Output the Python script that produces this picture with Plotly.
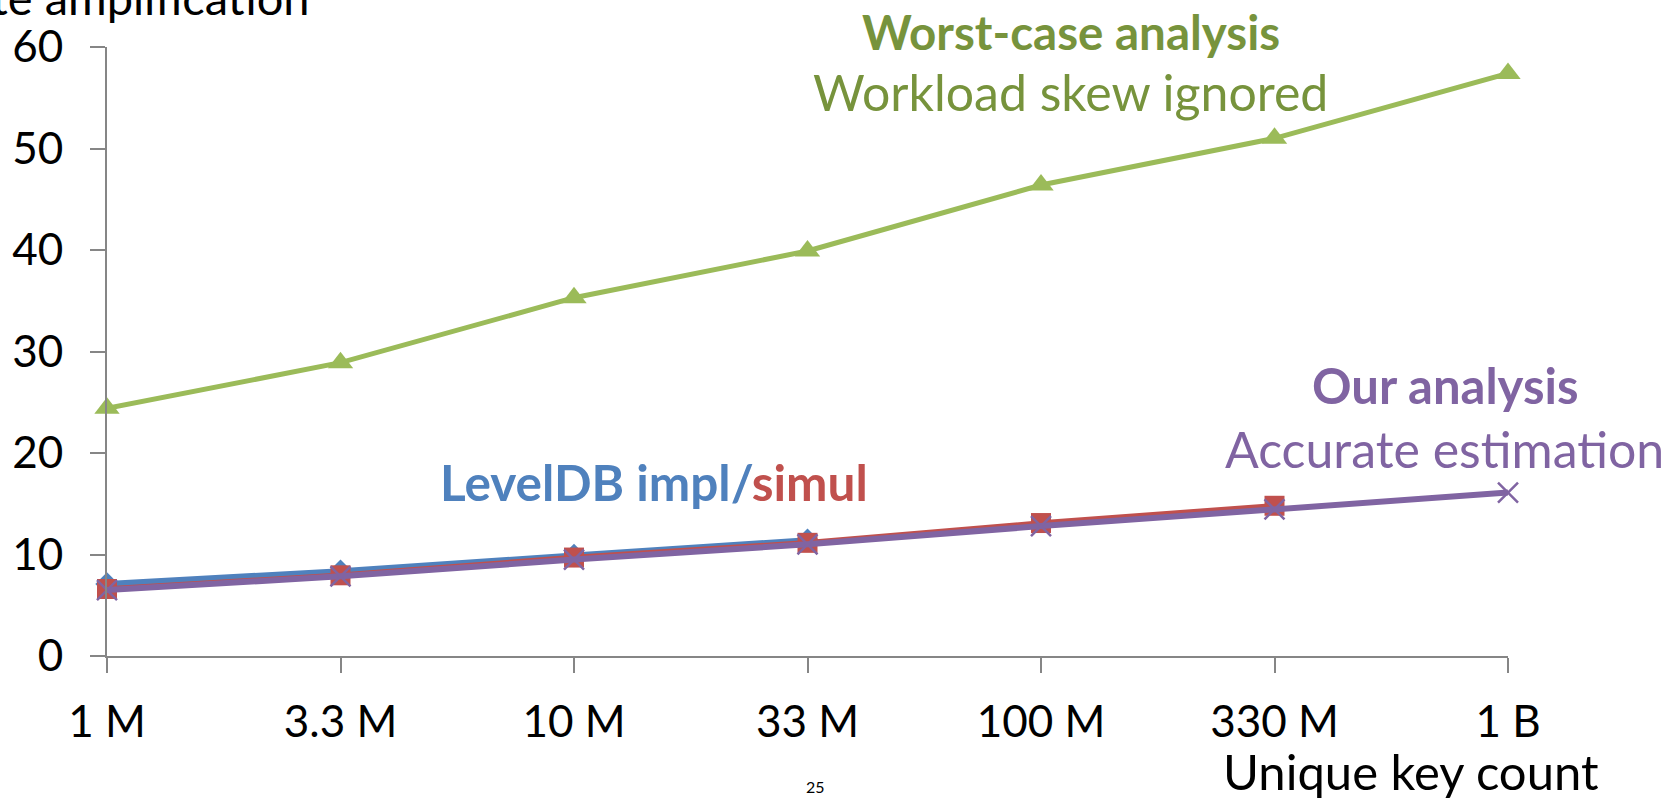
import plotly.graph_objects as go

categories = ["1 M", "3.3 M", "10 M", "33 M", "100 M", "330 M", "1 B"]
leveldb_impl = [7.1, 8.35, 9.9, 11.4]
leveldb_simul = [6.6, 7.95, 9.7, 11.15, 13.1, 14.8]
worst_case = [24.4, 28.9, 35.3, 39.9, 46.4, 51.0, 57.4]
our_analysis = [6.5, 7.85, 9.5, 11.0, 12.8, 14.45, 16.1]

BLUE = "#4F81BD"
RED = "#C0504D"
GREEN = "#9BBB59"
GREEN_TXT = "#77933C"
PURPLE = "#8064A2"
AX = "#868686"
FONT = "Lato"

W, H = 1677, 799
L, R, T, B = 105, 169, 47, 143
pw, ph = W - L - R, H - T - B

def px(x):
    return (x - L) / pw

def py(y):
    return (H - B - y) / ph

xs = list(range(len(categories)))

fig = go.Figure()
fig.add_trace(go.Scatter(
    x=xs[:len(leveldb_impl)], y=leveldb_impl, mode="lines+markers",
    line=dict(color=BLUE, width=6),
    marker=dict(symbol="diamond", size=18, color=BLUE), cliponaxis=False))
fig.add_trace(go.Scatter(
    x=xs[:len(leveldb_simul)], y=leveldb_simul, mode="lines+markers",
    line=dict(color=RED, width=5.5),
    marker=dict(symbol="square", size=20, color=RED), cliponaxis=False))
fig.add_trace(go.Scatter(
    x=xs, y=our_analysis, mode="lines+markers",
    line=dict(color=PURPLE, width=6),
    marker=dict(symbol="x-thin", size=20, color=PURPLE,
                line=dict(color=PURPLE, width=2.5)), cliponaxis=False))
fig.add_trace(go.Scatter(
    x=xs, y=worst_case, mode="lines+markers",
    line=dict(color=GREEN, width=5),
    marker=dict(symbol="triangle-up", size=22, color=GREEN), cliponaxis=False))

fig.update_layout(
    width=W, height=H,
    margin=dict(l=L, r=R, t=T, b=B, pad=0),
    paper_bgcolor="white", plot_bgcolor="white",
    showlegend=False,
    font=dict(family=FONT, size=44, color="black"),
)
fig.update_xaxes(
    range=[0, 6], tickmode="array", tickvals=xs, ticktext=categories,
    showgrid=False, zeroline=False, showline=True, linecolor=AX, linewidth=2,
    ticks="outside", ticklen=15, tickwidth=2, tickcolor=AX,
    ticklabelstandoff=11, tickfont=dict(family=FONT, size=44, color="black"))
fig.update_yaxes(
    range=[0, 60], tickmode="linear", tick0=0, dtick=10,
    showgrid=False, zeroline=False, showline=True, linecolor=AX, linewidth=2,
    ticks="outside", ticklen=15, tickwidth=2, tickcolor=AX,
    ticklabelstandoff=18, tickfont=dict(family=FONT, size=44, color="black"))

ann = [
    dict(text="Write amplification", x=px(310), y=py(-3), xanchor="right",
         yanchor="middle", font=dict(size=47, color="black")),
    dict(text="Unique key count", x=px(1601), y=py(771), xanchor="right",
         yanchor="middle", font=dict(size=49, color="black")),
    dict(text="25", x=px(815), y=py(786), xanchor="center", yanchor="middle",
         font=dict(size=16, color="black")),
    dict(text="<b>Worst-case analysis</b>", x=px(1070), y=py(31),
         xanchor="center", yanchor="middle",
         font=dict(size=47.5, color=GREEN_TXT)),
    dict(text="Workload skew ignored", x=px(1070), y=py(92),
         xanchor="center", yanchor="middle",
         font=dict(size=50, color=GREEN_TXT)),
    dict(text="<b>Our analysis</b>", x=px(1445), y=py(385),
         xanchor="center", yanchor="middle",
         font=dict(size=49, color=PURPLE)),
    dict(text="Accurate estimation", x=px(1444), y=py(449),
         xanchor="center", yanchor="middle",
         font=dict(size=50, color=PURPLE)),
    dict(text="<b><span style='color:%s'>LevelDB impl/</span><span style='color:%s'>simul</span></b>" % (BLUE, RED),
         x=px(653), y=py(482), xanchor="center", yanchor="middle",
         font=dict(size=49.5, color=BLUE)),
]
for a in ann:
    a.update(xref="paper", yref="paper", showarrow=False)
    a["font"]["family"] = FONT
fig.update_layout(annotations=ann)

fig.write_html("out.html")
